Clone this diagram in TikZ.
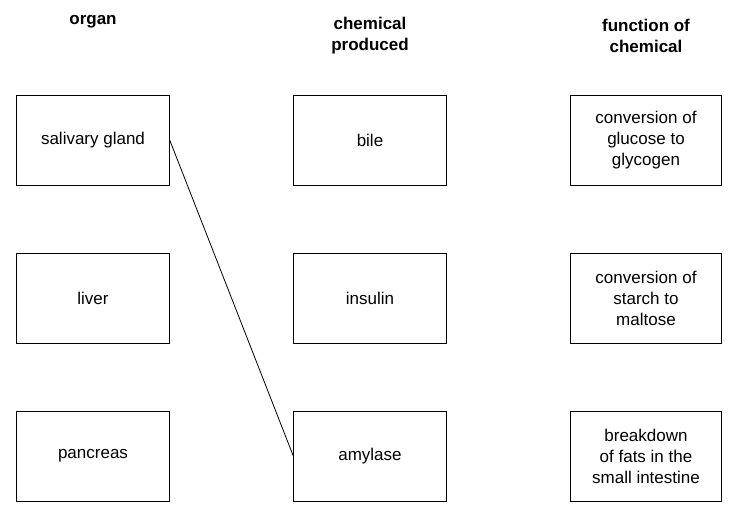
\documentclass[tikz,border=0pt]{standalone}
\usepackage{fontspec}
\setmainfont{Liberation Sans}
\usetikzlibrary{positioning}
\begin{document}
\begin{tikzpicture}[x=1pt, y=-1pt,
    every node/.style = {font=\fontsize{17}{21}\selectfont, align=center},
    box/.style = {draw=black, thin, minimum width=153pt, minimum height=90pt, inner sep=2pt},
    head/.style = {font=\fontsize{17}{21}\selectfont\bfseries}
    ]
    \useasboundingbox (0,0) rectangle (739,515);
    % headings
    \node[head] (horgan) at (93,22) {organ};
    \node[head] (hchem) at (370,36) {chemical\\produced};
    \node[head] (hfunc) at (646,36) {function of\\chemical};
    % organs
    \node[box] (salivary) at (93,140) {salivary gland};
    \node[box] (liver) at (93,298) {liver};
    \node[box] (pancreas) at (93,456) {pancreas};
    % chemicals
    \node[box] (bile) at (370,140) {bile};
    \node[box] (insulin) at (370,298) {insulin};
    \node[box] (amylase) at (370,456) {amylase};
    % functions
    \node[box, minimum width=151pt] (glycogen) at (646,140) {conversion of\\glucose to\\glycogen};
    \node[box, minimum width=151pt] (maltose) at (646,298) {conversion of\\starch to\\maltose};
    \node[box, minimum width=151pt] (fats) at (646,456) {breakdown\\of fats in the\\small intestine};
    % example match
    \draw[thick] (salivary.east) -- (amylase.west);
\end{tikzpicture}
\end{document}
